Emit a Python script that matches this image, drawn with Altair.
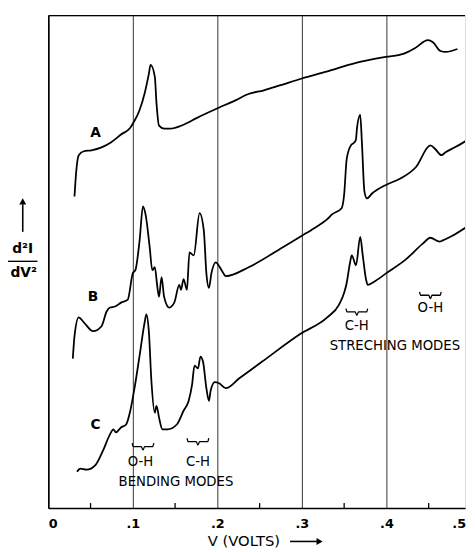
import altair as alt
import pandas as pd

# Curve A (V in volts, d2I/dV2 in arbitrary units)
a_v = [0.031, 0.033, 0.036, 0.042, 0.051, 0.063, 0.074, 0.086, 0.097, 0.102, 0.108, 0.114, 0.119, 0.121,
       0.126, 0.128, 0.131, 0.137, 0.144, 0.160, 0.176, 0.201, 0.222, 0.236, 0.255, 0.274, 0.300, 0.329,
       0.364, 0.399, 0.420, 0.434, 0.449, 0.455, 0.464, 0.470, 0.484]
a_y = [317, 342, 359, 363, 364, 367, 372, 380, 387, 394, 405, 422, 442, 451,
       439, 412, 389, 386, 386, 390, 397, 407, 415, 421, 425, 430, 437, 444,
       453, 459, 462, 468, 476, 474, 465, 464, 467]

# Curve B
b_v = [0.029, 0.031, 0.036, 0.042, 0.053, 0.063, 0.069, 0.073, 0.079, 0.086, 0.094, 0.100, 0.103, 0.108,
       0.112, 0.115, 0.120, 0.123, 0.126, 0.129, 0.131, 0.134, 0.137, 0.143, 0.149, 0.155, 0.157, 0.160,
       0.164, 0.167, 0.172, 0.179, 0.184, 0.187, 0.190, 0.193, 0.198, 0.205, 0.210, 0.237, 0.277, 0.300,
       0.315, 0.330, 0.336, 0.347, 0.350, 0.353, 0.358, 0.362, 0.364, 0.365, 0.369, 0.371, 0.374, 0.377,
       0.383, 0.400, 0.416, 0.435, 0.452, 0.458, 0.465, 0.470, 0.481, 0.495]
b_y = [152, 175, 194, 189, 180, 185, 200, 204, 205, 209, 212, 239, 242, 272,
       307, 299, 265, 242, 245, 225, 215, 235, 215, 204, 209, 227, 222, 233,
       222, 260, 257, 300, 282, 239, 224, 239, 250, 242, 236, 245, 265, 277,
       285, 294, 299, 305, 319, 355, 369, 372, 375, 385, 400, 372, 322, 315,
       320, 329, 335, 347, 369, 365, 359, 362, 367, 374]

# Curve C
c_v = [0.034, 0.038, 0.045, 0.056, 0.065, 0.073, 0.077, 0.080, 0.086, 0.092, 0.097, 0.102, 0.108, 0.114,
       0.116, 0.119, 0.122, 0.126, 0.128, 0.131, 0.135, 0.141, 0.152, 0.160, 0.166, 0.170, 0.173, 0.177,
       0.180, 0.183, 0.187, 0.190, 0.192, 0.197, 0.202, 0.210, 0.226, 0.253, 0.298, 0.330, 0.344, 0.350,
       0.353, 0.357, 0.359, 0.364, 0.369, 0.372, 0.376, 0.378, 0.385, 0.400, 0.423, 0.443, 0.452, 0.463,
       0.466, 0.478, 0.495]
c_y = [37, 40, 39, 44, 59, 75, 80, 77, 82, 85, 99, 122, 155, 189,
       197, 179, 129, 97, 104, 92, 80, 80, 85, 99, 109, 125, 145, 142,
       154, 149, 122, 109, 119, 128, 127, 122, 132, 149, 177, 194, 207, 219,
       229, 250, 257, 247, 276, 257, 232, 227, 230, 239, 253, 269, 275, 271,
       272, 277, 286]

major_ticks = [0.0, 0.1, 0.2, 0.3, 0.4, 0.5]
minor_ticks = [0.05, 0.15, 0.25, 0.35, 0.45]

curve_labels = ["A", "B", "C"]
curve_label_v = [0.056, 0.053, 0.056]
curve_label_y = [382, 215, 84]

ann_text = ["O-H", "C-H", "BENDING MODES", "C-H", "STRECHING MODES", "O-H"]
ann_v = [0.109, 0.177, 0.151, 0.365, 0.410, 0.452]
ann_y = [47, 47, 26, 185, 165, 203]
brace_v = [0.112, 0.177, 0.365, 0.452]
brace_y = [62, 67, 199, 216]

W, H = 424, 501
XMAX = 0.493
xs = alt.Scale(domain=[0, XMAX], nice=False, zero=False)
ys = alt.Scale(domain=[0, 501], nice=False, zero=False)
FONT = "DejaVu Sans"

rows = []
for name, vv, yy in (("A", a_v, a_y), ("B", b_v, b_y), ("C", c_v, c_y)):
    for i, (v, y) in enumerate(zip(vv, yy)):
        rows.append({"curve": name, "i": i, "v": v, "y": y})
df = pd.DataFrame(rows)

lines = alt.Chart(df).mark_line(color="black", strokeWidth=1.8, clip=True, interpolate="monotone").encode(
    x=alt.X("v:Q", scale=xs, axis=alt.Axis(
        values=major_ticks[:-1], title=None, ticks=False, grid=True, gridColor="#333",
        gridWidth=1, domainColor="black", domainWidth=1.6, labelFont=FONT, labelFontSize=13,
        labelFontWeight="bold", labelColor="black", labelPadding=10,
        labelExpr="datum.value == 0 ? '0' : '.' + round(datum.value * 10)")),
    y=alt.Y("y:Q", scale=ys, axis=alt.Axis(
        title=None, labels=False, ticks=False, grid=False, domainColor="black", domainWidth=1.6)),
    detail="curve:N",
    order="i:Q",
)

# last tick label (.5) sits at the cropped right edge
last_label = alt.Chart(pd.DataFrame({"t": [".5"]})).mark_text(
    font=FONT, fontSize=13, fontWeight="bold", color="black", baseline="top", align="right").encode(
    x=alt.value(W + 1), y=alt.value(H + 10), text="t:N")

minor = alt.Chart(pd.DataFrame({"v": minor_ticks})).mark_rule(color="black", strokeWidth=1.3).encode(
    x=alt.X("v:Q", scale=xs), y=alt.value(H), y2=alt.value(H - 5))

top_border = alt.Chart(pd.DataFrame({"a": [0]})).mark_rule(color="black", strokeWidth=1.5).encode(
    x=alt.value(0), x2=alt.value(W), y=alt.value(0))

labels_abc = alt.Chart(pd.DataFrame({"t": curve_labels, "v": curve_label_v, "y": curve_label_y})).mark_text(
    font=FONT, fontSize=14, fontWeight="bold", color="black").encode(
    x=alt.X("v:Q", scale=xs), y=alt.Y("y:Q", scale=ys), text="t:N")

ann = alt.Chart(pd.DataFrame({"t": ann_text, "v": ann_v, "y": ann_y})).mark_text(
    font=FONT, fontSize=13.5, color="black").encode(
    x=alt.X("v:Q", scale=xs), y=alt.Y("y:Q", scale=ys), text="t:N")

# curly braces drawn as small polylines around each brace centre
brace_dx = [-0.0128, -0.0115, -0.002, 0.0, 0.002, 0.0115, 0.0128]
brace_dy = [4, 0.5, 0.5, -3, 0.5, 0.5, 4]
brows = []
for k, (bv, by) in enumerate(zip(brace_v, brace_y)):
    for j, (dx, dy) in enumerate(zip(brace_dx, brace_dy)):
        brows.append({"b": k, "j": j, "v": bv + dx, "y": by + dy})
braces = alt.Chart(pd.DataFrame(brows)).mark_line(color="black", strokeWidth=1.3, interpolate="monotone").encode(
    x=alt.X("v:Q", scale=xs), y=alt.Y("y:Q", scale=ys), detail="b:N", order="j:Q")

# y-axis label d2I/dV2 with arrow
one = pd.DataFrame({"a": [0]})
y_arrow = alt.Chart(one).mark_rule(color="black", strokeWidth=1.6).encode(
    x=alt.value(-26), y=alt.value(220), y2=alt.value(192))
y_head = alt.Chart(one).mark_point(shape="triangle-up", filled=True, color="black", size=50, opacity=1).encode(
    x=alt.value(-26), y=alt.value(189))
y_num = alt.Chart(one).mark_text(font=FONT, fontSize=14, fontWeight="bold", color="black", text="d²I").encode(
    x=alt.value(-26), y=alt.value(238))
y_bar = alt.Chart(one).mark_rule(color="black", strokeWidth=1.4).encode(
    x=alt.value(-41), x2=alt.value(-11), y=alt.value(250))
y_den = alt.Chart(one).mark_text(font=FONT, fontSize=14, fontWeight="bold", color="black", text="dV²").encode(
    x=alt.value(-25), y=alt.value(262))

# x-axis title with arrow
x_title = alt.Chart(one).mark_text(font=FONT, fontSize=15, color="black", text="V (VOLTS)").encode(
    x=alt.value(199), y=alt.value(535))
x_arrow = alt.Chart(one).mark_rule(color="black", strokeWidth=1.6).encode(
    x=alt.value(246), x2=alt.value(274), y=alt.value(535))
x_head = alt.Chart(one).mark_point(shape="triangle-right", filled=True, color="black", size=50, opacity=1).encode(
    x=alt.value(276), y=alt.value(535))

chart = alt.layer(
    lines, last_label, minor, top_border, labels_abc, ann, braces,
    y_arrow, y_head, y_num, y_bar, y_den, x_title, x_arrow, x_head
).properties(
    width=W, height=H,
    autosize=alt.AutoSizeParams(type="none"),
    padding={"left": 41, "top": 3, "right": 2, "bottom": 41},
).configure_view(stroke=None).configure(background="white")

chart.save("out.html", embed_options={"renderer": "svg", "actions": False})
